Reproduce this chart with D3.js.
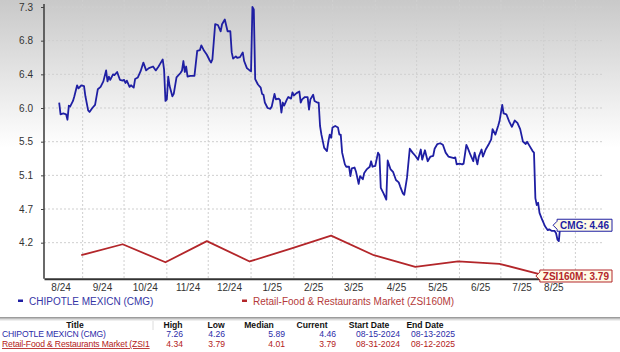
<!DOCTYPE html>
<html>
<head>
<meta charset="utf-8">
<script src="https://cdn.jsdelivr.net/npm/d3@7/dist/d3.min.js"></script>
<style>
  body { margin: 0; background: #fff; }
  svg { display: block; font-family: "Liberation Sans", Arial, sans-serif; }
</style>
</head>
<body>
<svg id="chart" width="620" height="352"></svg>
<script>
// ---- data ----
const cmgSeries = [
  ["2024-08-15",6.04],["2024-08-16",5.89],["2024-08-18",5.90],["2024-08-20",5.89],["2024-08-21",5.82],
  ["2024-08-22",6.00],["2024-08-23",5.99],["2024-08-25",6.06],["2024-08-26",6.12],["2024-08-28",6.26],
  ["2024-08-29",6.22],["2024-08-31",6.26],["2024-09-02",6.25],["2024-09-03",6.12],["2024-09-05",5.94],
  ["2024-09-06",5.92],["2024-09-08",5.97],["2024-09-10",6.01],["2024-09-12",6.21],["2024-09-14",6.24],
  ["2024-09-16",6.31],["2024-09-18",6.45],["2024-09-19",6.31],["2024-09-20",6.37],["2024-09-21",6.33],
  ["2024-09-23",6.40],["2024-09-24",6.39],["2024-09-26",6.43],["2024-09-28",6.33],["2024-09-30",6.32],
  ["2024-10-01",6.33],["2024-10-02",6.29],["2024-10-03",6.32],["2024-10-05",6.24],["2024-10-06",6.26],
  ["2024-10-08",6.23],["2024-10-09",6.34],["2024-10-11",6.36],["2024-10-13",6.44],["2024-10-15",6.55],
  ["2024-10-17",6.45],["2024-10-19",6.48],["2024-10-22",6.50],["2024-10-24",6.45],["2024-10-26",6.50],
  ["2024-10-27",6.53],["2024-10-29",6.59],["2024-10-30",6.46],["2024-10-31",6.06],["2024-11-01",6.08],
  ["2024-11-02",6.37],["2024-11-03",6.25],["2024-11-05",6.12],["2024-11-06",6.15],["2024-11-08",6.36],
  ["2024-11-11",6.42],["2024-11-12",6.45],["2024-11-13",6.57],["2024-11-14",6.43],["2024-11-15",6.50],
  ["2024-11-16",6.37],["2024-11-18",6.38],["2024-11-21",6.38],["2024-11-23",6.70],["2024-11-25",6.71],
  ["2024-11-26",6.77],["2024-11-28",6.70],["2024-11-30",6.65],["2024-12-02",6.58],["2024-12-03",6.55],
  ["2024-12-04",6.59],["2024-12-06",7.04],["2024-12-08",7.03],["2024-12-10",6.95],["2024-12-11",7.04],
  ["2024-12-13",7.10],["2024-12-15",6.95],["2024-12-17",6.95],["2024-12-18",6.68],["2024-12-19",6.60],
  ["2024-12-21",6.63],["2024-12-22",6.61],["2024-12-24",6.62],["2024-12-26",6.68],["2024-12-27",6.57],
  ["2024-12-29",6.48],["2024-12-31",6.45],["2025-01-01",6.44],["2025-01-02",7.26],["2025-01-03",7.23],
  ["2025-01-04",6.34],["2025-01-06",6.27],["2025-01-08",6.23],["2025-01-09",6.15],["2025-01-10",6.14],
  ["2025-01-11",6.04],["2025-01-13",5.97],["2025-01-15",5.96],["2025-01-16",5.99],["2025-01-18",6.15],
  ["2025-01-19",6.08],["2025-01-21",6.09],["2025-01-22",6.07],["2025-01-23",5.91],["2025-01-24",6.04],
  ["2025-01-25",6.00],["2025-01-27",6.08],["2025-01-28",6.11],["2025-01-30",6.09],["2025-01-31",6.17],
  ["2025-02-01",6.13],["2025-02-03",6.16],["2025-02-05",6.18],["2025-02-06",6.04],["2025-02-07",6.08],
  ["2025-02-09",6.11],["2025-02-11",6.11],["2025-02-12",5.95],["2025-02-13",6.08],["2025-02-15",6.14],
  ["2025-02-16",6.06],["2025-02-18",6.04],["2025-02-19",6.04],["2025-02-20",5.74],["2025-02-21",5.63],
  ["2025-02-23",5.46],["2025-02-25",5.42],["2025-02-26",5.54],["2025-02-27",5.63],["2025-02-28",5.59],
  ["2025-03-01",5.72],["2025-03-03",5.74],["2025-03-05",5.72],["2025-03-06",5.63],["2025-03-07",5.63],
  ["2025-03-08",5.40],["2025-03-10",5.25],["2025-03-11",5.22],["2025-03-13",5.22],["2025-03-14",5.10],
  ["2025-03-15",5.20],["2025-03-17",5.21],["2025-03-18",5.16],["2025-03-20",5.00],["2025-03-21",5.10],
  ["2025-03-23",5.06],["2025-03-24",5.14],["2025-03-26",5.19],["2025-03-28",5.22],["2025-03-29",5.29],
  ["2025-03-30",5.22],["2025-04-01",5.23],["2025-04-03",5.40],["2025-04-04",5.37],["2025-04-05",4.95],
  ["2025-04-07",4.88],["2025-04-09",4.80],["2025-04-10",5.30],["2025-04-12",5.19],["2025-04-14",5.15],
  ["2025-04-16",5.05],["2025-04-18",5.02],["2025-04-19",4.97],["2025-04-21",4.88],["2025-04-22",4.86],
  ["2025-04-24",5.08],["2025-04-26",5.45],["2025-04-28",5.40],["2025-04-30",5.36],["2025-05-02",5.31],
  ["2025-05-04",5.44],["2025-05-05",5.31],["2025-05-07",5.43],["2025-05-09",5.29],["2025-05-11",5.35],
  ["2025-05-13",5.36],["2025-05-14",5.45],["2025-05-16",5.51],["2025-05-18",5.52],["2025-05-20",5.50],
  ["2025-05-22",5.40],["2025-05-24",5.35],["2025-05-26",5.34],["2025-05-28",5.33],["2025-05-29",5.34],
  ["2025-05-30",5.25],["2025-06-01",5.26],["2025-06-03",5.25],["2025-06-04",5.26],["2025-06-06",5.50],
  ["2025-06-07",5.46],["2025-06-09",5.37],["2025-06-11",5.29],["2025-06-12",5.40],["2025-06-14",5.25],
  ["2025-06-15",5.35],["2025-06-17",5.44],["2025-06-18",5.35],["2025-06-20",5.44],["2025-06-22",5.50],
  ["2025-06-24",5.57],["2025-06-25",5.70],["2025-06-27",5.63],["2025-06-29",5.74],["2025-06-30",5.80],
  ["2025-07-02",6.01],["2025-07-03",5.90],["2025-07-05",5.89],["2025-07-07",5.80],["2025-07-09",5.73],
  ["2025-07-11",5.81],["2025-07-13",5.78],["2025-07-15",5.70],["2025-07-17",5.54],["2025-07-19",5.51],
  ["2025-07-20",5.54],["2025-07-22",5.48],["2025-07-24",5.42],["2025-07-25",5.40],["2025-07-26",4.82],
  ["2025-07-27",4.73],["2025-07-28",4.76],["2025-07-29",4.63],["2025-07-31",4.54],["2025-08-02",4.46],
  ["2025-08-04",4.41],["2025-08-05",4.42],["2025-08-07",4.40],["2025-08-09",4.40],["2025-08-10",4.37],
  ["2025-08-11",4.29],["2025-08-12",4.27],["2025-08-13",4.46]
];

const zsiDates  = ["2024-08-31","2024-09-30","2024-10-31","2024-11-30","2024-12-31","2025-01-31",
                   "2025-02-28","2025-03-31","2025-04-30","2025-05-31","2025-06-30","2025-07-31","2025-08-12"];
const zsiValues = [4.09, 4.23, 4.00, 4.27, 4.01, 4.18, 4.34, 4.09, 3.94, 4.01, 3.98, 3.84, 3.79];

const yTicks = [7.26, 6.83, 6.40, 5.97, 5.54, 5.11, 4.68, 4.25];
const yTickLabels = ["7.3", "6.8", "6.4", "6.0", "5.5", "5.1", "4.7", "4.2"];
const yDomain = [3.79, 7.26];

const monthLabels = ["8/24","9/24","10/24","11/24","12/24","1/25","2/25","3/25","4/25","5/25","6/25","7/25","8/25"];
const monthLabelDates = ["2024-08-16","2024-09-15","2024-10-16","2024-11-16","2024-12-16","2025-01-16",
                         "2025-02-15","2025-03-16","2025-04-16","2025-05-16","2025-06-16","2025-07-16","2025-08-08"];
const gridDates = ["2024-09-01","2024-10-01","2024-11-01","2024-12-01","2025-01-01","2025-02-01","2025-03-01",
                   "2025-04-01","2025-05-01","2025-06-01","2025-07-01","2025-08-01","2025-08-24"];

const seriesNames = ["CHIPOTLE MEXICN (CMG)", "Retail-Food & Restaurants Market (ZSI160M)"];
const tagTexts = ["CMG: 4.46", "ZSI160M: 3.79"];
const tableHeader = ["Title","High","Low","Median","Current","Start Date","End Date"];
const tableRows = [
  ["CHIPOTLE MEXICN (CMG)", "7.26", "4.26", "5.89", "4.46", "08-15-2024", "08-13-2025"],
  ["Retail-Food & Restaurants Market (ZSI160M)", "4.34", "3.79", "4.01", "3.79", "08-31-2024", "08-12-2025"]
];

const blue = "#1f1fa3";
const red  = "#b3262a";

// ---- setup ----
const parse = d3.timeParse("%Y-%m-%d");
const svg = d3.select("#chart");
const plotLeft = 44, plotRight = 603, plotTop = 4, plotBottom = 278.7;

const defs = svg.append("defs");
const grad = defs.append("linearGradient")
  .attr("id", "bg").attr("x1", 0).attr("y1", 0).attr("x2", 0).attr("y2", 1);
grad.append("stop").attr("offset", "0%").attr("stop-color", "#c9c9c9");
grad.append("stop").attr("offset", "42%").attr("stop-color", "#ffffff");
grad.append("stop").attr("offset", "100%").attr("stop-color", "#ffffff");

svg.append("rect").attr("width", 620).attr("height", 352).attr("fill", "url(#bg)");

const x = d3.scaleTime()
  .domain([new Date(2024, 7, 4), new Date(2025, 8, 13)])
  .range([plotLeft, plotRight]);
const y = d3.scaleLinear().domain(yDomain).range([plotBottom, 7]);

// gridlines
svg.append("g").selectAll("line")
  .data(yTicks)
  .join("line")
    .attr("x1", plotLeft).attr("x2", plotRight)
    .attr("y1", d => y(d)).attr("y2", d => y(d))
    .attr("stroke", "#cfcfcf").attr("stroke-dasharray", "2,2");

svg.append("g").selectAll("line")
  .data(gridDates.map(parse))
  .join("line")
    .attr("x1", d => x(d)).attr("x2", d => x(d))
    .attr("y1", 0).attr("y2", plotBottom)
    .attr("stroke", "#cfcfcf").attr("stroke-dasharray", "2,2");

// axes
const yAxis = svg.append("g")
  .attr("transform", `translate(${plotLeft},0)`)
  .call(d3.axisLeft(y).tickValues(yTicks).tickFormat((d, i) => yTickLabels[i])
    .tickSize(3).tickSizeOuter(0).tickPadding(8));
yAxis.select(".domain").attr("stroke", "#444").attr("stroke-width", 1.6)
  .attr("d", `M0,${plotTop}V${plotBottom}`);
yAxis.selectAll(".tick line").attr("stroke", "#444");
yAxis.selectAll("text").attr("font-size", 10).attr("fill", "#333").attr("font-family", "Liberation Sans, Arial");

const xAxis = svg.append("g")
  .attr("transform", `translate(0,${plotBottom})`)
  .call(d3.axisBottom(x).tickValues(monthLabelDates.map(parse))
    .tickFormat((d, i) => monthLabels[i]).tickSize(0).tickSizeOuter(0).tickPadding(5));
xAxis.select(".domain").attr("stroke", "#333").attr("stroke-width", 2);
xAxis.selectAll("text").attr("font-size", 10).attr("fill", "#333").attr("font-family", "Liberation Sans, Arial");

// lines
const line = d3.line().x(d => x(d[0])).y(d => y(d[1]));

svg.append("path")
  .datum(zsiDates.map((d, i) => [parse(d), zsiValues[i]]))
  .attr("fill", "none").attr("stroke", red).attr("stroke-width", 1.8)
  .attr("stroke-linejoin", "round")
  .attr("d", line);

svg.append("path")
  .datum(cmgSeries.map(d => [parse(d[0]), d[1]]))
  .attr("fill", "none").attr("stroke", blue).attr("stroke-width", 1.8)
  .attr("stroke-linejoin", "round")
  .attr("d", line);

// end tags
function drawTag(text, color, cy) {
  const g = svg.append("g");
  const t = g.append("text")
    .attr("font-size", 10).attr("font-weight", "bold").attr("fill", color)
    .attr("dy", "0.35em").attr("y", cy).text(text);
  const tw = t.node().getComputedTextLength();
  const r = 612, l = r - tw - 6, h = 6;
  g.insert("path", "text")
    .attr("d", `M${l - 4},${cy} L${l},${cy - 4} V${cy - h} H${r} V${cy + h} H${l} V${cy + 4} Z`)
    .attr("fill", "#fffbe6").attr("stroke", color).attr("stroke-width", 1);
  t.attr("x", l + 3);
}
drawTag(tagTexts[0], blue, y(cmgSeries[cmgSeries.length - 1][1]) - 1);
drawTag(tagTexts[1], red, Math.min(y(zsiValues[zsiValues.length - 1]), 276));

// legend
const legend = svg.append("g").attr("font-size", 10);
[[18, 29, blue], [242, 253, red]].forEach(([mx, tx, c], i) => {
  legend.append("rect").attr("x", mx).attr("y", 299.5).attr("width", 5).attr("height", 2.5).attr("fill", c);
  legend.append("text").attr("x", tx).attr("y", 304.5).attr("fill", c === blue ? "#3535a5" : "#b43a3a")
    .text(seriesNames[i]);
});

// separator
[["#9c9c9c", 317], ["#bdbdbd", 318], ["#dcdcdc", 319], ["#efefef", 320]].forEach(([c, yy]) =>
  svg.append("rect").attr("x", 0).attr("y", yy).attr("width", 620).attr("height", 1).attr("fill", c));

// table
const headCenters = [75, 173, 216, 259, 312, 369, 425];
const valueRights = [null, 183, 225, 285, 336, 400, 455];
const titleWidth = 150;
const table = svg.append("g").attr("font-size", 8.6);

table.append("line").attr("x1", 153).attr("x2", 153).attr("y1", 321).attr("y2", 330)
  .attr("stroke", "#dcdcdc");

table.selectAll(".head")
  .data(tableHeader)
  .join("text")
    .attr("x", (d, i) => headCenters[i]).attr("y", 328)
    .attr("text-anchor", "middle").attr("font-weight", "bold").attr("fill", "#111")
    .text(d => d);

tableRows.forEach((row, r) => {
  const c = r === 0 ? "#2b2ba8" : "#b32020";
  const yy = 336.5 + r * 10.5;
  row.forEach((cell, i) => {
    const t = table.append("text").attr("y", yy).attr("fill", c).text(cell);
    if (i === 0) {
      t.attr("x", 2).attr("letter-spacing", -0.15);
      // the title column cuts long names off, as in the source table
      let s = cell;
      while (t.node().getComputedTextLength() > titleWidth && s.length > 1) {
        s = s.slice(0, -1);
        t.text(s);
      }
      if (r === 1) t.attr("text-decoration", "underline");
    } else {
      t.attr("x", valueRights[i]).attr("text-anchor", "end");
    }
  });
});
</script>
</body>
</html>
